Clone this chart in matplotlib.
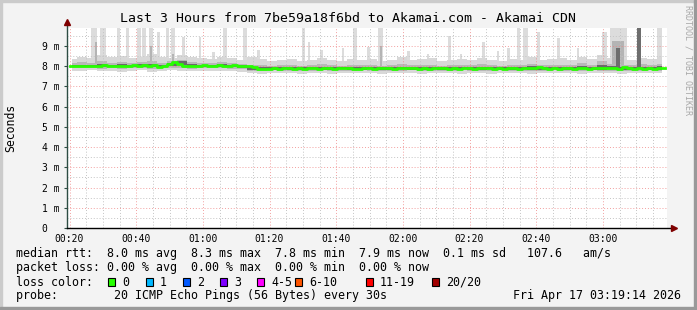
"""
Smokeping style latency graph: Last 3 Hours to Akamai.com
"""

import numpy as np
import matplotlib.pyplot as plt
from matplotlib.patches import Rectangle

W, H = 697, 310

# time axis in minutes after midnight, graph runs 00:19:14 -> 03:19:14
t_start = 19 + 14 / 60
t_end = t_start + 180

# ===== DATA =====
# median rtt [ms], one value every 1.5 min
median_ms = [
    8.00, 7.99, 8.01, 8.02, 8.01, 8.03, 8.02, 8.04, 8.03, 8.01,
    8.02, 8.00, 8.02, 8.04, 8.03, 8.05, 8.02, 8.04, 7.98, 8.03,
    8.12, 8.21, 8.10, 8.02, 8.01, 7.99, 8.03, 8.04, 8.02, 8.03,
    8.04, 8.03, 8.02, 8.04, 8.03, 8.02, 8.03, 7.96, 7.86, 7.84,
    7.88, 7.90, 7.87, 7.89, 7.91, 7.88, 7.90, 7.87, 7.89, 7.90,
    7.88, 7.91, 7.90, 7.86, 7.89, 7.92, 7.90, 7.88, 7.87, 7.90,
    7.91, 7.88, 7.93, 7.89, 7.90, 7.87, 7.91, 7.89, 7.92, 7.90,
    7.88, 7.90, 7.87, 7.91, 7.89, 7.92, 7.88, 7.90, 7.87, 7.89,
    7.91, 7.88, 7.90, 7.92, 7.89, 7.87, 7.90, 7.88, 7.91, 7.89,
    7.88, 7.93, 7.90, 7.89, 7.96, 7.91, 7.88, 7.90, 7.87, 7.89,
    7.90, 7.88, 7.91, 7.89, 7.87, 7.90, 7.93, 7.89, 7.92, 7.90,
    7.88, 7.94, 7.90, 7.86, 7.92, 7.87, 7.89, 7.88, 7.90, 7.89,
]

# smoke envelope [ms], one value every 3 min
smoke_max = [
    8.35, 8.45, 8.40, 8.55, 8.45, 8.50, 8.40, 8.45, 8.60, 8.45,
    8.40, 8.55, 8.45, 8.40, 8.35, 8.45, 8.40, 8.30, 8.45, 8.35,
    8.25, 8.30, 8.35, 8.25, 8.30, 8.40, 8.30, 8.25, 8.35, 8.30,
    8.35, 8.25, 8.30, 8.45, 8.30, 8.35, 8.40, 8.25, 8.30, 8.35,
    8.30, 8.40, 8.30, 8.25, 8.35, 8.30, 8.45, 8.30, 8.35, 8.40,
    8.30, 8.45, 8.35, 8.55, 8.40, 8.35, 8.30, 8.40, 8.35, 8.45,
]
smoke_min = [
    7.78, 7.75, 7.80, 7.74, 7.78, 7.72, 7.76, 7.79, 7.73, 7.77,
    7.80, 7.76, 7.74, 7.78, 7.75, 7.77, 7.74, 7.72, 7.66, 7.64,
    7.68, 7.65, 7.67, 7.63, 7.66, 7.68, 7.64, 7.67, 7.65, 7.69,
    7.66, 7.63, 7.67, 7.65, 7.68, 7.64, 7.66, 7.67, 7.65, 7.63,
    7.66, 7.68, 7.64, 7.66, 7.65, 7.67, 7.64, 7.66, 7.68, 7.65,
    7.67, 7.64, 7.66, 7.65, 7.68, 7.64, 7.66, 7.67, 7.65, 7.66,
]
mid_hi = [
    8.16, 8.20, 8.18, 8.24, 8.17, 8.22, 8.15, 8.19, 8.26, 8.18,
    8.25, 8.30, 8.20, 8.16, 8.14, 8.19, 8.15, 8.10, 8.08, 8.04,
    8.02, 8.05, 8.07, 8.03, 8.05, 8.09, 8.04, 8.02, 8.06, 8.04,
    8.07, 8.03, 8.05, 8.10, 8.04, 8.06, 8.08, 8.03, 8.05, 8.07,
    8.04, 8.09, 8.05, 8.03, 8.07, 8.05, 8.12, 8.04, 8.06, 8.08,
    8.05, 8.14, 8.07, 8.25, 8.12, 8.08, 8.05, 8.10, 8.06, 8.12,
]
mid_lo = [
    7.91, 7.89, 7.92, 7.88, 7.90, 7.87, 7.91, 7.92, 7.88, 7.90,
    7.93, 7.89, 7.88, 7.91, 7.89, 7.90, 7.88, 7.84, 7.77, 7.76,
    7.79, 7.77, 7.78, 7.75, 7.78, 7.79, 7.76, 7.78, 7.77, 7.80,
    7.77, 7.75, 7.78, 7.77, 7.79, 7.76, 7.78, 7.77, 7.75, 7.79,
    7.77, 7.76, 7.78, 7.80, 7.76, 7.78, 7.77, 7.75, 7.79, 7.77,
    7.78, 7.76, 7.79, 7.77, 7.75, 7.78, 7.77, 7.76, 7.79, 7.77,
]
dark_hi = [
    8.06, 8.07, 8.08, 8.09, 8.07, 8.10, 8.08, 8.09, 8.11, 8.08,
    8.14, 8.25, 8.11, 8.08, 8.07, 8.09, 8.08, 8.04, 7.97, 7.94,
    7.95, 7.96, 7.95, 7.94, 7.96, 7.97, 7.95, 7.94, 7.96, 7.95,
    7.97, 7.94, 7.96, 7.98, 7.95, 7.96, 7.97, 7.94, 7.96, 7.97,
    7.95, 7.98, 7.96, 7.94, 7.97, 7.96, 7.99, 7.95, 7.96, 7.97,
    7.95, 8.01, 7.97, 8.04, 7.99, 7.96, 7.95, 7.98, 7.96, 7.99,
]
dark_lo = [
    7.96, 7.95, 7.97, 7.96, 7.95, 7.97, 7.96, 7.97, 7.95, 7.96,
    8.02, 8.06, 7.97, 7.95, 7.96, 7.95, 7.96, 7.90, 7.82, 7.81,
    7.83, 7.84, 7.83, 7.82, 7.84, 7.83, 7.82, 7.84, 7.83, 7.82,
    7.84, 7.83, 7.82, 7.84, 7.83, 7.82, 7.84, 7.83, 7.82, 7.84,
    7.83, 7.82, 7.84, 7.83, 7.82, 7.84, 7.83, 7.82, 7.84, 7.83,
    7.82, 7.84, 7.83, 7.82, 7.84, 7.83, 7.82, 7.84, 7.83, 7.82,
]

# outliers (light smoke): start [min], width [min], top [ms]
spike_start = [26.4, 29.1, 34.2, 36.9, 40.2, 41.7, 43.8, 46.2, 48.9, 50.4,
               53.7, 58.8, 62.7, 66.0, 72.0, 76.2, 89.7, 91.5, 95.1, 101.7,
               105.0, 109.2, 112.5, 121.2, 127.2, 133.5, 137.1, 143.7, 148.2, 151.2,
               154.2, 156.0, 160.2, 166.2, 172.2, 179.7, 182.1, 190.2, 196.2]
spike_width = [1.8, 1.8, 0.9, 0.9, 1.2, 1.2, 1.2, 0.9, 0.9, 1.2,
               0.9, 0.6, 0.9, 1.2, 1.2, 0.9, 0.9, 0.6, 0.9, 0.6,
               1.2, 0.9, 1.5, 0.9, 0.6, 0.9, 0.6, 0.9, 0.6, 0.9,
               0.9, 1.5, 0.9, 0.9, 0.6, 1.5, 5.1, 1.2, 1.5]
spike_top = [9.9, 9.9, 9.9, 9.9, 9.9, 9.9, 9.9, 9.7, 9.9, 9.9,
             9.45, 9.45, 8.7, 9.9, 9.9, 8.8, 9.9, 9.2, 8.8, 8.9,
             9.9, 8.95, 9.9, 8.75, 8.6, 9.5, 8.6, 9.2, 8.75, 8.9,
             9.9, 9.9, 9.7, 9.4, 8.9, 9.7, 9.9, 9.9, 9.9]

# denser outliers (mid grey)
mid_start = [27.6, 44.1, 50.7, 113.1, 182.7]
mid_width = [0.6, 0.6, 0.6, 0.6, 3.6]
mid_top = [9.2, 9.0, 8.6, 9.0, 9.25]

# dense outliers (dark grey)
dark_start = [183.9, 190.2]
dark_width = [1.2, 1.2]
dark_top = [8.9, 9.9]

x_ticks = [20, 40, 60, 80, 100, 120, 140, 160, 180]
x_labels = ["00:20", "00:40", "01:00", "01:20", "01:40", "02:00", "02:20", "02:40", "03:00"]
y_ticks = [0, 1, 2, 3, 4, 5, 6, 7, 8, 9]
y_labels = ["0  ", "1 m", "2 m", "3 m", "4 m", "5 m", "6 m", "7 m", "8 m", "9 m"]

loss_labels = ["0", "1", "2", "3", "4-5", "6-10", "11-19", "20/20"]
loss_colors = ["#26ff00", "#00b8ff", "#0059ff", "#7e00ff", "#ff00ff", "#ff5500", "#ff0000", "#a10000"]

legend_lines = [
    "median rtt:  8.0 ms avg  8.3 ms max  7.8 ms min  7.9 ms now  0.1 ms sd   107.6   am/s",
    "packet loss: 0.00 % avg  0.00 % max  0.00 % min  0.00 % now",
    "loss color:",
    "probe:        20 ICMP Echo Pings (56 Bytes) every 30s",
]
date_text = "Fri Apr 17 03:19:14 2026"
title = "Last 3 Hours from 7be59a18f6bd to Akamai.com - Akamai CDN"

# ===== PLOT =====
plt.rcParams['font.family'] = ['DejaVu Sans Mono']


def px(x, y):
    """pixel coords (from top-left) -> figure fraction"""
    return x / W, 1 - y / H


fig = plt.figure(figsize=(W / 100, H / 100), dpi=100)
fig.patch.set_facecolor('#f3f3f3')

# 3d frame around the image
fig.patches.append(Rectangle((0, 1 - 2 / H), 1, 2 / H, transform=fig.transFigure, color='#cbcbcb', zorder=0))
fig.patches.append(Rectangle((0, 0), 2 / W, 1, transform=fig.transFigure, color='#cbcbcb', zorder=0))
fig.patches.append(Rectangle((1 - 3 / W, 0), 3 / W, 1, transform=fig.transFigure, color='#999999', zorder=0))
fig.patches.append(Rectangle((0, 0), 1, 3 / H, transform=fig.transFigure, color='#999999', zorder=0))

left, top = px(67, 28)
right, bottom = px(667, 228)
ax = fig.add_axes([left, bottom, right - left, top - bottom])
ax.set_facecolor('white')

t_med = t_start + 0.75 + 1.5 * np.arange(len(median_ms))
t_smoke = t_start + 1.5 + 3.0 * np.arange(len(smoke_max))

# light smoke
ax.bar(spike_start, np.array(spike_top) - 7.9, width=spike_width, bottom=7.9,
       align='edge', color='#dcdcdc', linewidth=0, zorder=1)
ax.fill_between(t_smoke, smoke_min, smoke_max, step='mid', color='#d8d8d8', linewidth=0, zorder=1)
# medium smoke
ax.bar(mid_start, np.array(mid_top) - 7.9, width=mid_width, bottom=7.9,
       align='edge', color='#b4b4b4', linewidth=0, zorder=2)
ax.fill_between(t_smoke, mid_lo, mid_hi, step='mid', color='#b8b8b8', linewidth=0, zorder=2)
# dark smoke
ax.bar(dark_start, np.array(dark_top) - 7.9, width=dark_width, bottom=7.9,
       align='edge', color='#6e6e6e', linewidth=0, zorder=3)
ax.fill_between(t_smoke, dark_lo, dark_hi, step='mid', color='#6a6a6a', linewidth=0, zorder=3)
# median line
ax.plot(t_med, median_ms, drawstyle='steps-mid', color='#26ff00', linewidth=2.0, zorder=4)

ax.set_xlim(t_start, t_end)
ax.set_ylim(0, 200 / 20.22)

ax.set_xticks(x_ticks)
ax.set_xticklabels(x_labels)
ax.set_xticks(np.arange(25, 200, 5), minor=True)
ax.set_yticks(y_ticks)
ax.set_yticklabels(y_labels)
ax.set_yticks(np.arange(0.5, 10, 1.0), minor=True)

ax.tick_params(axis='x', which='both', length=0, pad=4, labelsize=7)
ax.tick_params(axis='y', which='major', length=2.5, width=0.8, color='#2c4d43', pad=3, labelsize=7)
ax.tick_params(axis='y', which='minor', length=0)

ax.grid(which='minor', color='#c4c4c4', linestyle=(0, (1, 2)), linewidth=0.7, zorder=5)
ax.grid(which='major', color='#ee8080', linestyle=(0, (1, 2)), linewidth=0.7, alpha=0.75, zorder=5)
ax.set_axisbelow(False)

for s in ax.spines.values():
    s.set_visible(False)

# axes with arrows
ax.plot([0, 0], [0, 1.03], transform=ax.transAxes, color='#2c4d43', lw=1.0, clip_on=False, zorder=6)
ax.plot([0, 1.012], [0, 0], transform=ax.transAxes, color='black', lw=1.0, clip_on=False, zorder=6)
ax.plot([0], [1.03], transform=ax.transAxes, marker='^', markersize=5, color='#7f0000', clip_on=False, zorder=7)
ax.plot([1.012], [0], transform=ax.transAxes, marker='>', markersize=5, color='#7f0000', clip_on=False, zorder=7)

# title, axis label, watermark
fig.text(*px(348, 19), title, ha='center', va='center', fontsize=9.5)
fig.text(*px(11, 128), "Seconds", ha='center', va='center', rotation=90, fontsize=8.3)
fig.text(*px(688, 60), "RRDTOOL / TOBI OETIKER", ha='center', va='center', rotation=270,
         fontsize=6, color='#a8a8a8')

# legend block
for line, y in zip(legend_lines, [254, 268, 282, 296]):
    fig.text(*px(16, y), line, ha='left', va='center', fontsize=8.37)
fig.text(*px(681, 296), date_text, ha='right', va='center', fontsize=8.37)

sq_x = [108, 146, 183, 220, 257, 295, 366, 432]
for x, lab, col in zip(sq_x, loss_labels, loss_colors):
    fig.patches.append(Rectangle(px(x, 286), 7 / W, 8 / H, transform=fig.transFigure,
                                 facecolor=col, edgecolor='black', linewidth=0.8))
    fig.text(*px(x + 14, 282), lab, ha='left', va='center', fontsize=8.37)

plt.savefig('out.png', dpi=100, facecolor=fig.get_facecolor())
